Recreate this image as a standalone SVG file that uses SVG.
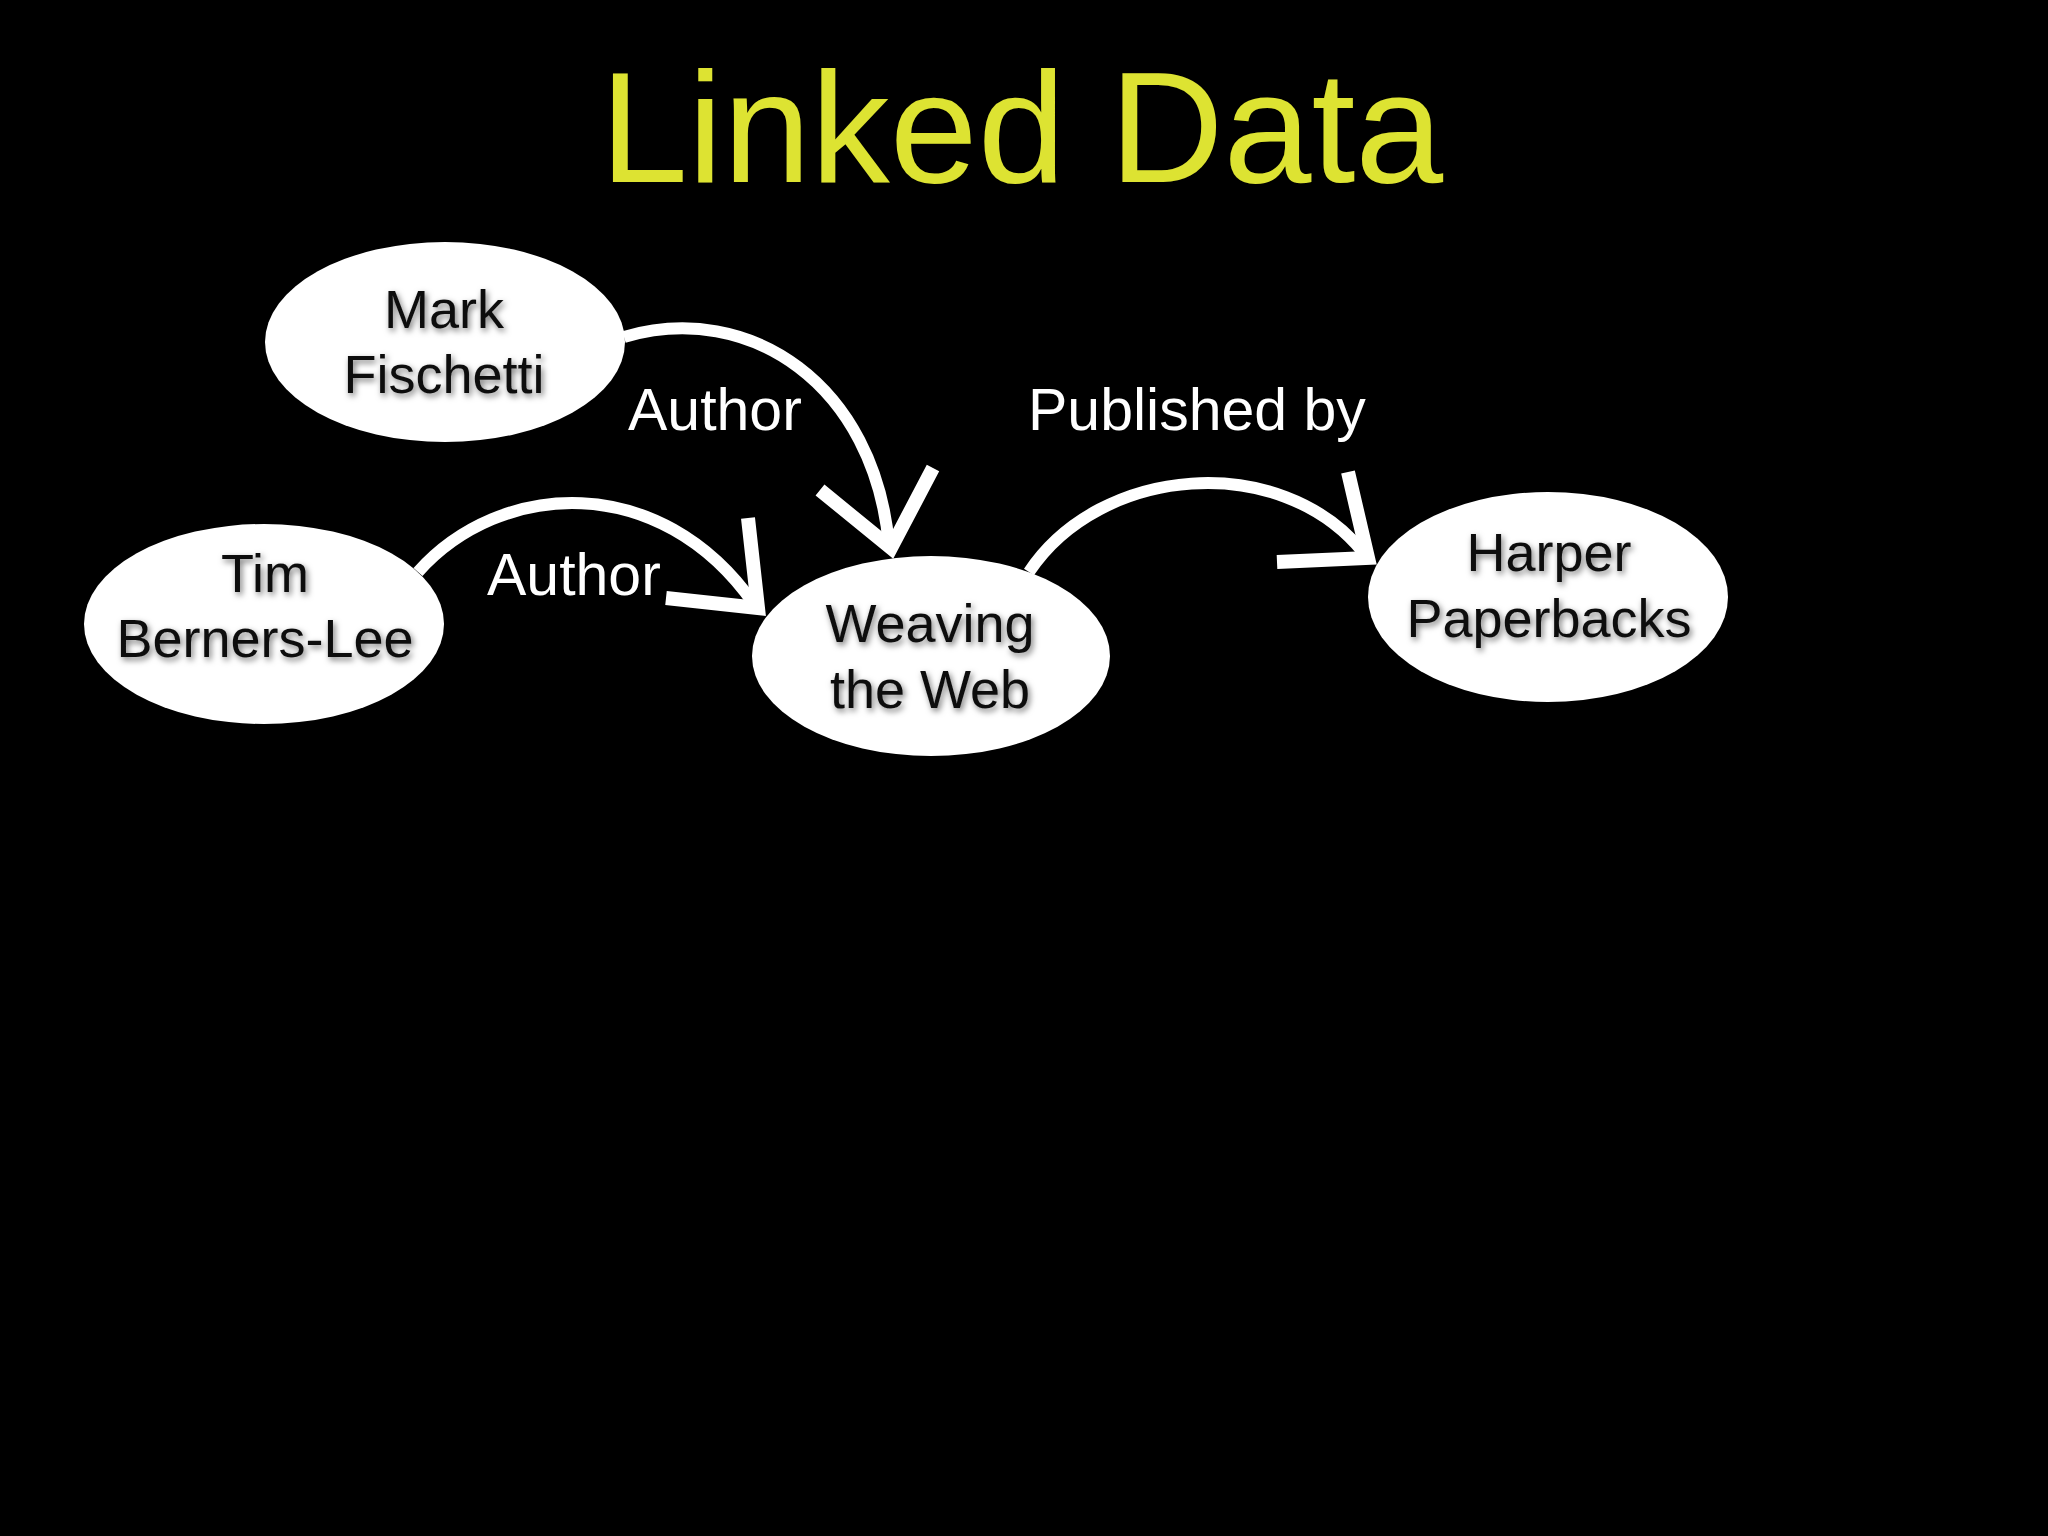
<svg xmlns="http://www.w3.org/2000/svg" width="2048" height="1536" viewBox="0 0 2048 1536">
  <defs>
    <filter id="shadow" x="-20%" y="-40%" width="140%" height="180%">
      <feDropShadow dx="2" dy="3" stdDeviation="3" flood-color="#000" flood-opacity="0.55"/>
    </filter>
    <style>
      .node { fill: #ffffff; }
      .ntext { font-family: "Liberation Sans", Arial, sans-serif; font-size: 54px; fill: #111111; text-anchor: middle; filter: url(#shadow); }
      .label { font-family: "Liberation Sans", Arial, sans-serif; font-size: 59px; fill: #ffffff; }
      .edge { fill: none; stroke: #ffffff; stroke-width: 12; stroke-linecap: butt; }
      .head { fill: none; stroke: #ffffff; stroke-width: 14; stroke-linejoin: miter; stroke-linecap: butt; }
      .title { font-family: "Liberation Sans", Arial, sans-serif; font-size: 158px; fill: #dde332; }
    </style>
  </defs>
  <rect width="2048" height="1536" fill="#000000"/>
  <text class="title" x="600" y="182">Linked Data</text>

  <g id="connectors">
    <path class="edge" d="M 624 337 C 750 300, 875 385, 889 546"/>
    <polyline class="head" points="820,490 891,548 933,468"/>
    <path class="edge" d="M 418 572 C 500 480, 660 470, 754 604"/>
    <polyline class="head" points="748,518 758,608 666,598"/>
    <path class="edge" d="M 1029 572 C 1100 465, 1280 450, 1363 552"/>
    <polyline class="head" points="1348,472 1368,558 1277,562"/>
    <text class="label" x="628" y="430">Author</text>
    <text class="label" x="487" y="595">Author</text>
    <text class="label" x="1028" y="430">Published by</text>
  </g>

  <g id="node-mark">
    <ellipse class="node" cx="445" cy="342" rx="180" ry="100"/>
    <text class="ntext" x="444" y="328">Mark</text>
    <text class="ntext" x="444" y="393">Fischetti</text>
  </g>
  <g id="node-tim">
    <ellipse class="node" cx="264" cy="624" rx="180" ry="100"/>
    <text class="ntext" x="265" y="592">Tim</text>
    <text class="ntext" x="265" y="657">Berners-Lee</text>
  </g>
  <g id="node-weaving">
    <ellipse class="node" cx="931" cy="656" rx="179" ry="100"/>
    <text class="ntext" x="930" y="642">Weaving</text>
    <text class="ntext" x="930" y="708">the Web</text>
  </g>
  <g id="node-harper">
    <ellipse class="node" cx="1548" cy="597" rx="180" ry="105"/>
    <text class="ntext" x="1549" y="571">Harper</text>
    <text class="ntext" x="1549" y="637">Paperbacks</text>
  </g>
</svg>
